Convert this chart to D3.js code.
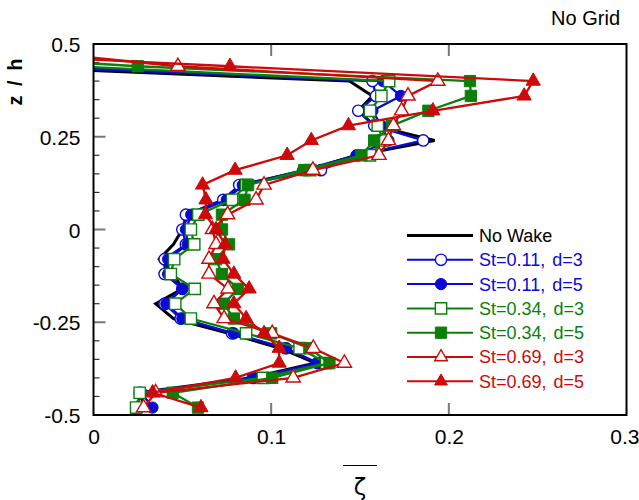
<!DOCTYPE html>
<html><head><meta charset="utf-8">
<script src="https://cdn.jsdelivr.net/npm/d3@7"></script>
<style>body{margin:0;background:#fff}svg{display:block}</style>
</head><body>
<svg id="c" width="639" height="500"></svg>
<script>
// ---- data ----
const zLevels=[0.48,0.44,0.40,0.36,0.32,0.28,0.24,0.20,0.16,0.12,0.08,0.04,0.00,-0.04,-0.08,-0.12,-0.16,-0.20,-0.24,-0.28,-0.32,-0.36,-0.40,-0.44,-0.48];
const noWake =[-0.10,-0.06,0.144,0.157,0.149,0.158,0.192,0.148,0.120,0.083,0.073,0.053,0.050,0.045,0.037,0.045,0.050,0.035,0.045,0.076,0.105,0.125,0.088,0.025,0.030];
const st011d3=[-0.10,-0.038,0.157,0.159,0.149,0.158,0.1856,0.149,0.128,0.082,0.073,0.052,0.050,0.052,0.040,0.040,0.050,0.040,0.049,0.078,0.108,0.126,0.090,0.026,0.025];
const st011d5=[-0.10,-0.035,0.163,0.173,0.157,0.162,0.166,0.148,0.118,0.084,0.075,0.055,0.052,0.053,0.042,0.042,0.050,0.041,0.050,0.079,0.1085,0.1264,0.0896,0.027,0.0332];
const st034d3=[-0.10,-0.011,0.1664,0.162,0.1556,0.160,0.163,0.1556,0.122,0.086,0.078,0.059,0.0548,0.0567,0.0454,0.0435,0.057,0.046,0.0548,0.0859,0.116,0.131,0.0953,0.026,0.024];
const st034d5=[-0.11,0.0249,0.2119,0.2124,0.1885,0.168,0.158,0.1508,0.1185,0.087,0.085,0.0723,0.0723,0.0763,0.069,0.0723,0.0814,0.0734,0.079,0.100,0.1215,0.1328,0.1006,0.0446,0.0588];
const st069d3=[-0.036,0.0475,0.1938,0.177,0.1734,0.1688,0.166,0.1607,0.1235,0.096,0.0915,0.0755,0.067,0.069,0.065,0.065,0.0757,0.0678,0.0735,0.1006,0.1237,0.1412,0.1124,0.035,0.0282];
const st069d5=[-0.097,0.0768,0.2475,0.2424,0.191,0.1435,0.1226,0.109,0.0797,0.0614,0.0633,0.063,0.069,0.074,0.0729,0.079,0.0876,0.079,0.0859,0.096,0.1045,0.1045,0.080,0.0333,0.0605];
const seriesSt=["No Wake","St=0.11,","St=0.11,","St=0.34,","St=0.34,","St=0.69,","St=0.69,"];
const seriesD=["","d=3","d=5","d=3","d=5","d=3","d=5"];
const xTicks=[0,0.1,0.2,0.3];
const xTickLabels=["0","0.1","0.2","0.3"];
const yTicks=[0.5,0.25,0,-0.25,-0.5];
const yTickLabels=["0.5","0.25","0","-0.25","-0.5"];
const yMinor=[0.45,0.4,0.35,0.3,0.2,0.15,0.1,0.05,-0.05,-0.1,-0.15,-0.2,-0.3,-0.35,-0.4,-0.45];

// ---- styles ----
const BLUE="#0a0ad2", GREEN="#0a800a", RED="#cc0a0a";
const series=[
 {vals:noWake, color:"#000",marker:null,filled:false,w:3},
 {vals:st011d3,color:BLUE,marker:"circle",filled:false,w:2.3},
 {vals:st011d5,color:BLUE,marker:"circle",filled:true,w:2.3},
 {vals:st034d3,color:GREEN,marker:"square",filled:false,w:2.3},
 {vals:st034d5,color:GREEN,marker:"square",filled:true,w:2.3},
 {vals:st069d3,color:RED,marker:"triangle",filled:false,w:2.3},
 {vals:st069d5,color:RED,marker:"triangle",filled:true,w:2.3}
];

const svg=d3.select("#c");
const L=93.5,R=626.5,T=44,B=415;
const x=d3.scaleLinear().domain([0,0.3]).range([L,R]);
const y=d3.scaleLinear().domain([-0.5,0.5]).range([B,T]);
const FONT="Liberation Sans, Arial, sans-serif";

svg.append("rect").attr("width",639).attr("height",500).attr("fill","#fff");
svg.append("defs").append("clipPath").attr("id","clip")
  .append("rect").attr("x",L).attr("y",T).attr("width",R-L).attr("height",B-T);

const symType={circle:d3.symbolCircle,square:d3.symbolSquare,triangle:d3.symbolTriangle};
const symSize={circle:100,square:128,triangle:88};
function drawMarker(g,m,filled,color,cx,cy,scale){
  g.append("path").attr("d",d3.symbol().type(symType[m]).size(symSize[m]*(scale||1))())
   .attr("transform",`translate(${cx},${cy})`)
   .attr("fill",filled?color:"#fff")
   .attr("stroke",color).attr("stroke-width",filled?1:1.4);
}

// ticks
const tk=svg.append("g");
yTicks.forEach(v=>{ tk.append("line").attr("x1",L).attr("x2",L+12).attr("y1",y(v)).attr("y2",y(v)).attr("stroke","#777").attr("stroke-width",2); });
yMinor.forEach(v=>{ tk.append("line").attr("x1",L).attr("x2",L+6).attr("y1",y(v)).attr("y2",y(v)).attr("stroke","#333").attr("stroke-width",1.2); });
[0.1,0.2].forEach(v=>{
  tk.append("line").attr("x1",x(v)).attr("x2",x(v)).attr("y1",T).attr("y2",T+12).attr("stroke","#777").attr("stroke-width",2);
  tk.append("line").attr("x1",x(v)).attr("x2",x(v)).attr("y1",B).attr("y2",B-12).attr("stroke","#777").attr("stroke-width",2);
});

// data
const plot=svg.append("g").attr("clip-path","url(#clip)");
const line=d3.line().x(d=>x(d[0])).y(d=>y(d[1]));
series.forEach(s=>{
  const pts=s.vals.map((v,i)=>[v,zLevels[i]]);
  plot.append("path").datum(pts).attr("d",line).attr("fill","none")
    .attr("stroke",s.color).attr("stroke-width",s.w).attr("stroke-linejoin","miter");
  if(s.marker){ pts.forEach(p=>drawMarker(plot,s.marker,s.filled,s.color,x(p[0]),y(p[1]))); }
});

// frame
svg.append("rect").attr("x",L).attr("y",T).attr("width",R-L).attr("height",B-T)
  .attr("fill","none").attr("stroke","#000").attr("stroke-width",2);

// axes labels via d3 axes (text only)
const yAx=svg.append("g").attr("transform",`translate(${L},0)`)
  .call(d3.axisLeft(y).tickValues(yTicks).tickFormat((d,i)=>yTickLabels[i]).tickSize(0).tickPadding(13));
yAx.select(".domain").remove();
yAx.selectAll("text").attr("font-family",FONT).attr("font-size",21).attr("fill","#000").attr("dy","0.36em");
const xAx=svg.append("g").attr("transform",`translate(0,${B})`)
  .call(d3.axisBottom(x).tickValues(xTicks).tickFormat((d,i)=>xTickLabels[i]).tickSize(0).tickPadding(14));
xAx.select(".domain").remove();
xAx.selectAll("text").attr("font-family",FONT).attr("font-size",21).attr("fill","#000");
// keep the last label inside the window
xAx.selectAll(".tick").filter(d=>d===0.3).select("text").attr("text-anchor","end").attr("x",12.5);

// axis titles
svg.append("text").attr("transform","translate(22,82) rotate(-90)").attr("text-anchor","middle")
  .attr("font-family",FONT).attr("font-weight","bold").attr("font-size",20).attr("word-spacing","4px").text("z / h");
svg.append("line").attr("x1",343).attr("x2",377).attr("y1",465.5).attr("y2",465.5).attr("stroke","#000").attr("stroke-width",1.2);
svg.append("text").attr("x",360).attr("y",495).attr("text-anchor","middle")
  .attr("font-family","DejaVu Sans, sans-serif").attr("font-size",23).text("ζ");
svg.append("text").attr("x",620).attr("y",25).attr("text-anchor","end")
  .attr("font-family",FONT).attr("font-size",20).text("No Grid");

// legend
const lg=svg.append("g");
const ly0=235.5, ldy=24.3;
series.forEach((s,i)=>{
  const yy=ly0+i*ldy;
  lg.append("line").attr("x1",407).attr("x2",473).attr("y1",yy).attr("y2",yy).attr("stroke",s.color).attr("stroke-width",i===0?3:2);
  if(s.marker) drawMarker(lg,s.marker,s.filled,s.color,441,yy,s.marker==="triangle"?0.8:1);
  const t=lg.append("text").attr("x",479).attr("y",yy).attr("dy","0.36em").attr("font-family",FONT).attr("font-size",18)
    .attr("fill",s.color);
  t.append("tspan").text(seriesSt[i]);
  if(seriesD[i]) t.append("tspan").attr("dx",7).text(seriesD[i]);
});
</script>
</body></html>
